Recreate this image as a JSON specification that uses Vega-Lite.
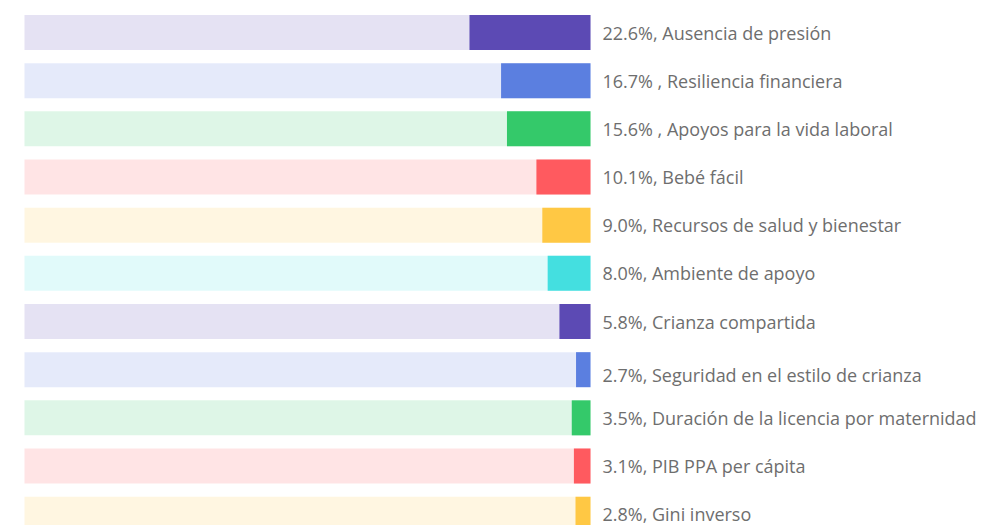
{
  "$schema": "https://vega.github.io/schema/vega-lite/v6.json",
  "width": 566,
  "height": 516.7,
  "autosize": {"type": "none"},
  "padding": {"top": 15, "left": 24.5, "right": 398.5, "bottom": 0},
  "background": "white",
  "config": {"view": {"stroke": null}},
  "data": {
    "values": [
      {"factor": "Ausencia de presión", "valor": 22.6, "etiqueta": "22.6%, Ausencia de presión"},
      {"factor": "Resiliencia financiera", "valor": 16.7, "etiqueta": "\u00a016.7% , Resiliencia financiera"},
      {"factor": "Apoyos para la vida laboral", "valor": 15.6, "etiqueta": "15.6% , Apoyos para la vida laboral"},
      {"factor": "Bebé fácil", "valor": 10.1, "etiqueta": "10.1%, Bebé fácil"},
      {"factor": "Recursos de salud y bienestar", "valor": 9.0, "etiqueta": "9.0%, Recursos de salud y bienestar"},
      {"factor": "Ambiente de apoyo", "valor": 8.0, "etiqueta": "8.0%, Ambiente de apoyo"},
      {"factor": "Crianza compartida", "valor": 5.8, "etiqueta": "5.8%, Crianza compartida"},
      {"factor": "Seguridad en el estilo de crianza", "valor": 2.7, "etiqueta": "2.7%, Seguridad en el estilo de crianza"},
      {"factor": "Duración de la licencia por maternidad", "valor": 3.5, "etiqueta": "3.5%, Duración de la licencia por maternidad"},
      {"factor": "PIB PPA per cápita", "valor": 3.1, "etiqueta": "3.1%, PIB PPA per cápita"},
      {"factor": "Gini inverso", "valor": 2.8, "etiqueta": "2.8%, Gini inverso"}
    ]
  },
  "encoding": {
    "y": {
      "field": "factor",
      "type": "nominal",
      "sort": null,
      "axis": null,
      "scale": {"paddingInner": 0.273, "paddingOuter": 0}
    }
  },
  "layer": [
    {
      "mark": {"type": "bar", "opacity": 0.16, "cornerRadius": 0},
      "encoding": {
        "x": {"datum": 105.7, "type": "quantitative", "scale": {"domain": [0, 105.7], "reverse": true, "nice": false, "zero": true}, "axis": null},
        "x2": {"datum": 0},
        "color": {"field": "factor", "type": "nominal", "legend": null,
          "scale": {
            "domain": ["Ausencia de presión", "Resiliencia financiera", "Apoyos para la vida laboral", "Bebé fácil", "Recursos de salud y bienestar", "Ambiente de apoyo", "Crianza compartida", "Seguridad en el estilo de crianza", "Duración de la licencia por maternidad", "PIB PPA per cápita", "Gini inverso"],
            "range": ["#5c4ab4", "#5b7fe0", "#34c96a", "#ff5a5f", "#ffc844", "#44dfe0", "#5c4ab4", "#5b7fe0", "#34c96a", "#ff5a5f", "#ffc844"]
          }}
      }
    },
    {
      "mark": {"type": "bar"},
      "encoding": {
        "x": {"field": "valor", "type": "quantitative"},
        "x2": {"datum": 0},
        "color": {"field": "factor", "type": "nominal", "legend": null}
      }
    },
    {
      "transform": [{"filter": "datum.factor !== 'Seguridad en el estilo de crianza'"}],
      "mark": {"type": "text", "align": "left", "baseline": "middle", "dx": 12, "dy": 2, "font": "Open Sans", "fontSize": 18, "color": "#6e6e6e"},
      "encoding": {
        "x": {"datum": 0},
        "text": {"field": "etiqueta"}
      }
    },
    {
      "transform": [{"filter": "datum.factor === 'Seguridad en el estilo de crianza'"}],
      "mark": {"type": "text", "align": "left", "baseline": "middle", "dx": 12, "dy": 7, "font": "Open Sans", "fontSize": 18, "color": "#6e6e6e"},
      "encoding": {
        "x": {"datum": 0},
        "text": {"field": "etiqueta"}
      }
    }
  ]
}
